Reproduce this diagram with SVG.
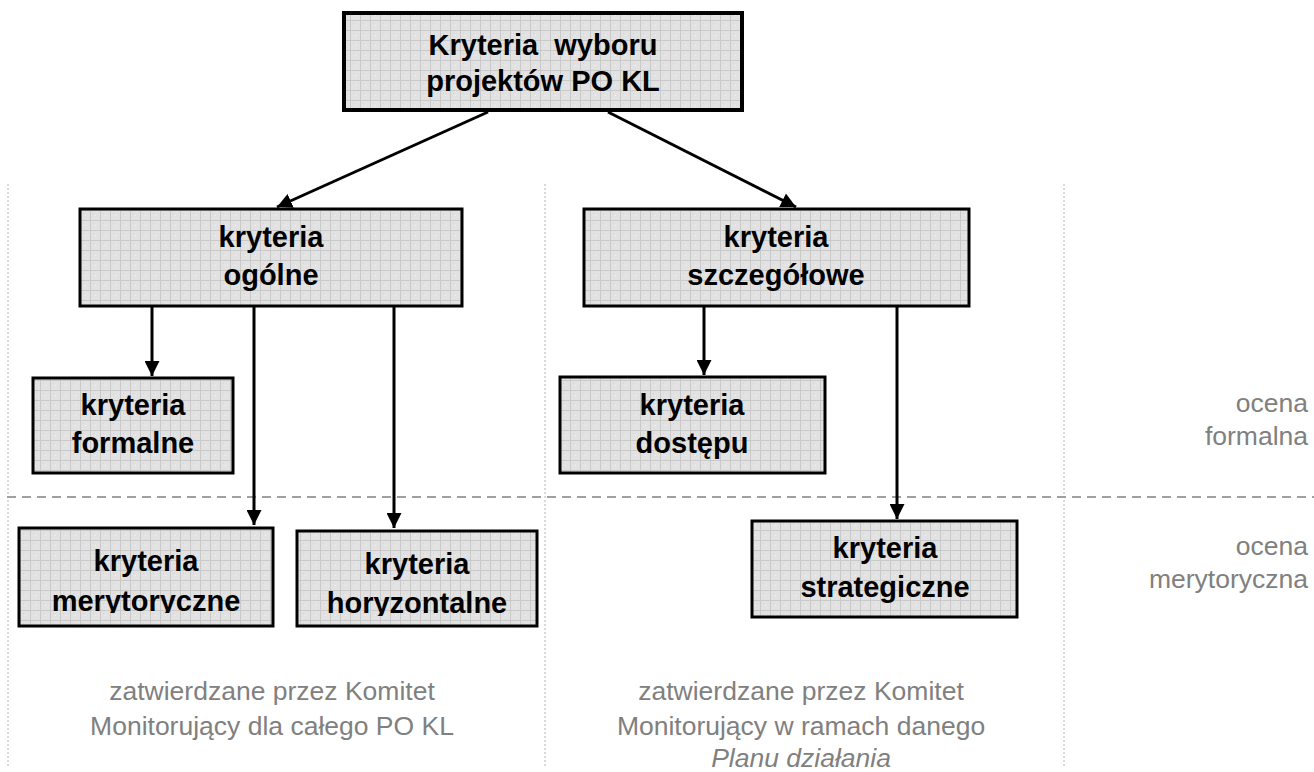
<svg xmlns="http://www.w3.org/2000/svg" width="1314" height="772" viewBox="0 0 1314 772">
<style>
.box{fill:url(#grid);stroke:#000;stroke-width:3}
.bt{font-family:"Liberation Sans",Arial,sans-serif;font-weight:bold;font-size:29px;fill:#000;text-anchor:middle}
.gt{font-family:"Liberation Sans",Arial,sans-serif;font-size:26.5px;fill:#808080}
.conn{stroke:#000;stroke-width:3;fill:none;marker-end:url(#arr)}
.vsep{stroke:#b4b4b4;stroke-width:1;stroke-dasharray:2 2;fill:none}
.hsep{stroke:#a0a0a0;stroke-width:2;stroke-dasharray:9 6;fill:none}
</style>
<defs>
<pattern id="grid" width="10" height="10" patternUnits="userSpaceOnUse">
<rect width="10" height="10" fill="#e2e2e2"/>
<path d="M0 0.5H10M0.5 0V10" stroke="#c9c9c9" stroke-width="1"/>
<rect x="5" y="5" width="1" height="1" fill="#f2f2f2"/>
<rect x="3" y="3" width="1" height="1" fill="#d2d2d2"/>
</pattern>
<marker id="arr" markerWidth="5" markerHeight="5" refX="5" refY="2.5" orient="auto" markerUnits="strokeWidth">
<path d="M0 0L5 2.5L0 5Z" fill="#000"/>
</marker>
<clipPath id="clipMer"><rect x="18" y="527" width="255" height="86"/></clipPath>
<clipPath id="clipHor"><rect x="296" y="530" width="241" height="86"/></clipPath>
</defs>
<rect width="1314" height="772" fill="#fff"/>

<g id="separators">
<line class="vsep" x1="8" y1="184" x2="8" y2="766"/>
<line class="vsep" x1="545" y1="184" x2="545" y2="766"/>
<line class="vsep" x1="1064" y1="184" x2="1064" y2="766"/>
<line class="hsep" x1="7" y1="497" x2="1314" y2="497"/>
</g>

<g id="connectors">
<line class="conn" x1="488" y1="112" x2="277" y2="207"/>
<line class="conn" x1="608" y1="112" x2="796" y2="207"/>
<line class="conn" x1="152" y1="306" x2="152" y2="376"/>
<line class="conn" x1="254" y1="306" x2="254" y2="525"/>
<line class="conn" x1="394" y1="306" x2="394" y2="528"/>
<line class="conn" x1="704" y1="307" x2="704" y2="375"/>
<line class="conn" x1="897" y1="307" x2="897" y2="519"/>
</g>

<g id="n-top">
<rect class="box" x="344" y="13" width="398" height="97" style="stroke-width:4"/>
<text class="bt" x="543" y="55" xml:space="preserve">Kryteria  wyboru</text>
<text class="bt" x="543" y="91">projektów PO KL</text>
</g>

<g id="n-ogolne">
<rect class="box" x="80" y="209" width="382" height="97"/>
<text class="bt" x="271" y="247">kryteria</text>
<text class="bt" x="271" y="285">ogólne</text>
</g>

<g id="n-szczegolowe">
<rect class="box" x="584" y="209" width="385" height="97"/>
<text class="bt" x="776" y="247">kryteria</text>
<text class="bt" x="776" y="285">szczegółowe</text>
</g>

<g id="n-formalne">
<rect class="box" x="33" y="378" width="200" height="95"/>
<text class="bt" x="133" y="415">kryteria</text>
<text class="bt" x="133" y="453">formalne</text>
</g>

<g id="n-dostepu">
<rect class="box" x="560" y="377" width="265" height="96"/>
<text class="bt" x="692" y="415">kryteria</text>
<text class="bt" x="692" y="453">dostępu</text>
</g>

<g id="n-merytoryczne">
<rect class="box" x="19" y="528" width="254" height="98"/>
<g clip-path="url(#clipMer)">
<text class="bt" x="146" y="571">kryteria</text>
<text class="bt" x="146" y="611">merytoryczne</text>
</g>
</g>

<g id="n-horyzontalne">
<rect class="box" x="297" y="531" width="240" height="95"/>
<g clip-path="url(#clipHor)">
<text class="bt" x="417" y="574">kryteria</text>
<text class="bt" x="417" y="613">horyzontalne</text>
</g>
</g>

<g id="n-strategiczne">
<rect class="box" x="752" y="521" width="265" height="96"/>
<text class="bt" x="885" y="558">kryteria</text>
<text class="bt" x="885" y="597">strategiczne</text>
</g>

<g id="labels">
<text class="gt" x="1308" y="412" text-anchor="end">ocena</text>
<text class="gt" x="1308" y="445" text-anchor="end">formalna</text>
<text class="gt" x="1308" y="555" text-anchor="end">ocena</text>
<text class="gt" x="1308" y="588" text-anchor="end">merytoryczna</text>
<text class="gt" x="272" y="700" text-anchor="middle">zatwierdzane przez Komitet</text>
<text class="gt" x="272" y="735" text-anchor="middle">Monitorujący dla całego PO KL</text>
<text class="gt" x="801" y="700" text-anchor="middle">zatwierdzane przez Komitet</text>
<text class="gt" x="801" y="735" text-anchor="middle">Monitorujący w ramach danego</text>
<text class="gt" x="801" y="767" text-anchor="middle" font-style="italic">Planu działania</text>
</g>
</svg>
